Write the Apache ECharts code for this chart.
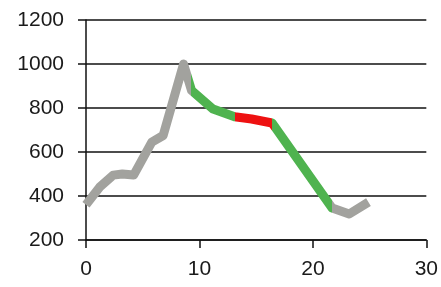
<!DOCTYPE html>
<html>
<head>
<meta charset="utf-8">
<script src="https://cdn.jsdelivr.net/npm/echarts@6/dist/echarts.min.js"></script>
<style>
  html, body { margin: 0; padding: 0; background: #fff; }
  #chart { width: 441px; height: 287px; }
</style>
</head>
<body>
<div id="chart"></div>
<script>
// values
const xs = [0, 1.2, 2.4, 3.2, 4.2, 5.8, 6.8, 8.6, 9.3, 11.2, 13.1, 14.6, 16.4, 21.7, 23.2, 24.9];
const ys = [360, 440, 495, 500, 495, 645, 675, 1000, 880, 795, 760, 750, 732, 345, 318, 372];

// where the line changes colour (x values) and the colour of each stretch
const breaks = [9.3, 13.1, 16.4, 21.7];
const stretchColors = ['#a2a29e', '#4fb34f', '#ee1111', '#4fb34f', '#a2a29e'];

const xTicks = { min: 0, max: 30, interval: 10 };
const yTicks = { min: 200, max: 1200, interval: 200 };

const points = xs.map((x, i) => [x, ys[i]]);

const pieces = stretchColors.map((color, i) => {
  const p = { color };
  if (i > 0) p.gte = breaks[i - 1];
  if (i < breaks.length) p.lt = breaks[i];
  return p;
});

const ink = '#111';

function axisStyle(labelMargin) {
  return {
    axisLine: { show: true, onZero: false, lineStyle: { color: ink, width: 1.5 } },
    axisTick: { show: true, inside: false, length: 8, lineStyle: { color: ink, width: 1.5 } },
    axisLabel: {
      show: true,
      margin: labelMargin,
      fontFamily: 'Liberation Sans, Arial, sans-serif',
      fontSize: 21,
      color: '#1a1a1a',
      formatter: (v) => String(v)
    }
  };
}

const chart = echarts.init(document.getElementById('chart'), null, { renderer: 'canvas' });

chart.setOption({
  animation: false,
  backgroundColor: '#fff',
  grid: { left: 86, top: 20, right: 14, bottom: 47, show: false },
  xAxis: {
    type: 'value',
    ...xTicks,
    ...axisStyle(19),
    splitLine: { show: false }
  },
  yAxis: {
    type: 'value',
    ...yTicks,
    ...axisStyle(22),
    splitLine: { show: true, lineStyle: { color: ink, width: 1.5 } }
  },
  visualMap: {
    show: false,
    type: 'piecewise',
    dimension: 0,
    seriesIndex: 0,
    pieces
  },
  series: [{
    type: 'line',
    data: points,
    showSymbol: false,
    symbol: 'none',
    lineStyle: { width: 9, cap: 'butt', join: 'round' }
  }]
});
</script>
</body>
</html>
